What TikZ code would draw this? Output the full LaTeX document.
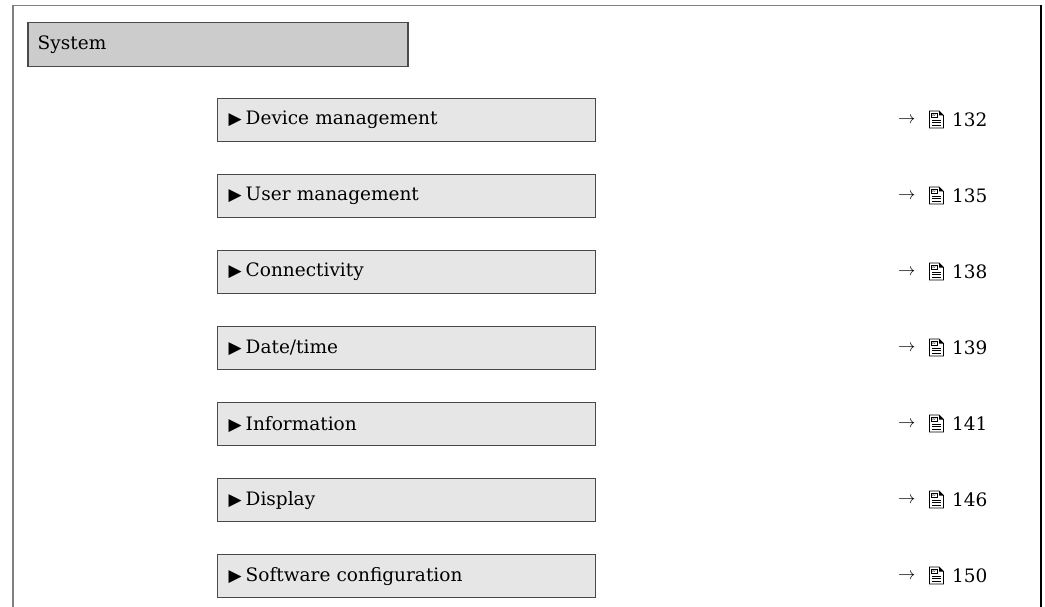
\documentclass[tikz,border=0pt]{standalone}
\usepackage{fontspec}
\setmainfont{DejaVu Serif}
\newfontfamily\dvsans{DejaVu Sans}
\definecolor{framegray}{HTML}{808080}
\definecolor{boxline}{HTML}{4A4A4A}
\definecolor{sysfill}{HTML}{CCCCCC}
\definecolor{itemfill}{HTML}{E6E6E6}
\tikzset{
  sysbox/.style={draw=boxline, line width=1.5pt, fill=sysfill, anchor=north west,
    minimum width=380pt, minimum height=44pt, text width=360pt, inner xsep=9pt,
    align=left, font=\fontsize{18.5}{21}\selectfont},
  itembox/.style={draw=boxline, line width=1.3pt, fill=itemfill, anchor=north west,
    minimum width=378pt, minimum height=43pt, text width=356pt, inner xsep=11pt,
    align=left, font=\fontsize{18.5}{21}\selectfont},
  reftext/.style={anchor=west, inner sep=0pt, font=\fontsize{18.5}{21}\selectfont},
  refarrow/.style={anchor=west, inner sep=0pt, font=\fontsize{17}{19}\selectfont},
  pageicon/.pic={
    \draw[line width=0.9pt, fill=white] (0,0) -- (9.5,0) -- (14,4.5) -- (14,17) -- (0,17) -- cycle;
    \fill (9.5,0) -- (14,4.5) -- (9.5,4.5) -- cycle;
    \draw[line width=0.6pt] (2,2) rectangle (7.5,6.5);
    \node[inner sep=0pt, font=\fontsize{4}{4}\selectfont] at (4.75,4.25) {A-};
    \foreach \yy in {9,11.5,14} {\draw[line width=0.9pt] (2.5,\yy) -- (11.5,\yy);}
  }
}
\begin{document}
\begin{tikzpicture}[x=1pt, y=-1pt]
\useasboundingbox (0,0) rectangle (1045,607);
% outer frame
\draw[framegray, line width=1.2pt] (13,607) -- (13,5.5) -- (1041,5.5);
\draw[black, line width=1.8pt] (1041,5) -- (1041,607);
% system box
\node[sysbox] (sys) at (27,22) {System};
% items
\foreach \i/\txt/\pg in {0/Device management/132, 1/User management/135, 2/Connectivity/138,
  3/Date\slash time/139, 4/Information/141, 5/Display/146, 6/Software configuration/150} {
  \node[itembox] (item\i) at (217,98+76*\i) {{\dvsans\fontsize{17}{19}\selectfont ▶}\hspace{4pt}\txt};
  \node[refarrow] (arr\i) at (898,120+76*\i) {$\rightarrow$};
  \pic (icon\i) at (929.5,111+76*\i) {pageicon};
  \node[reftext] (pg\i) at (952,120+76*\i) {\pg};
}
\end{tikzpicture}
\end{document}
